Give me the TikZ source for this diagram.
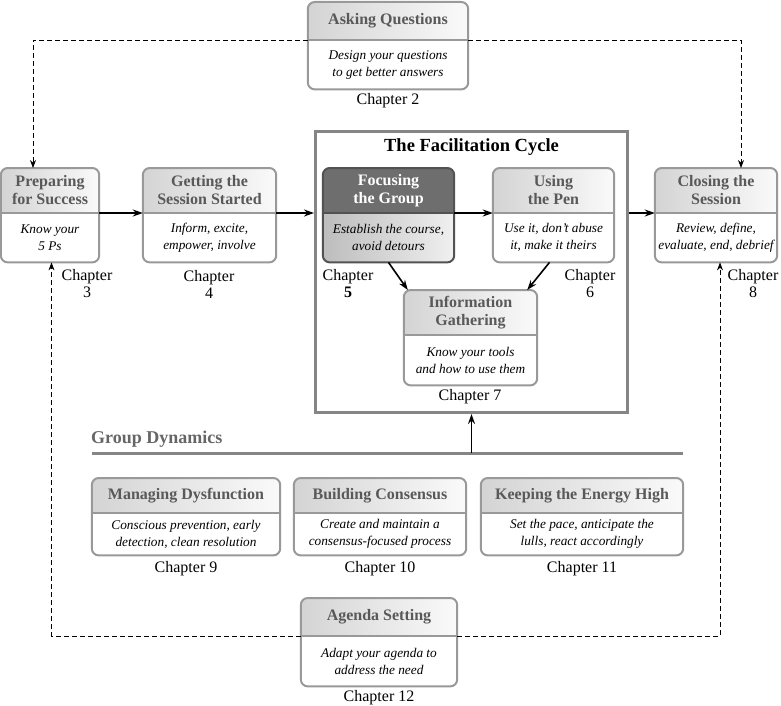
\documentclass[tikz,border=0pt]{standalone}
\usepackage{fontspec}
\setmainfont{Liberation Serif}
\usepackage{tikz}
\usetikzlibrary{arrows.meta,calc}

% box with shaded header and white body
\newcommand{\topicbox}[9]{%
  \node[boxshape, minimum width=#5, minimum height=#6, anchor=north] (#1) at (#3,#4) {};
  \begin{scope}[#2]
    \begin{scope}
      \clip[rounded corners=7pt] (#1.south west) rectangle (#1.north east);
      \shade[bodyshade] (#1.south west) rectangle (#1.north east);
      \shade[headshade] (#1.north west) rectangle ([yshift=-#7pt]#1.north east);
    \end{scope}
    \coordinate (#1-dw) at ([yshift=-#7pt]#1.north west);
    \coordinate (#1-de) at ([yshift=-#7pt]#1.north east);
    \coordinate (#1-dc) at ([yshift=-#7pt]#1.north);
    \draw[divider] (#1-dw) -- (#1-de);
    \draw[boxline] (#1.south west) rectangle (#1.north east);
    \node[headtext] (#1-h) at ($(#1.north)!0.5!(#1-dc)$) {#8};
    \node[bodytext] (#1-b) at ($(#1.south)!0.5!(#1-dc)$) {#9};
  \end{scope}
}

\begin{document}
\begin{tikzpicture}[
    x=1pt, y=-1pt,
    boxshape/.style={rectangle, inner sep=0pt},
    plainbox/.style={},
    headshade/.style={left color=black!17, right color=black!2},
    bodyshade/.style={top color=white, bottom color=white},
    boxline/.style={draw=black!40, line width=2pt, rounded corners=7pt},
    divider/.style={draw=black!40, line width=1.5pt},
    headtext/.style={font=\bfseries\fontsize{16}{18}\selectfont, text=black!65,
        align=center, inner sep=0pt},
    bodytext/.style={font=\itshape\fontsize{13.3}{17}\selectfont, align=center,
        inner sep=0pt},
    darkbox/.style={
        headshade/.style={top color=black!57, bottom color=black!57},
        bodyshade/.style={left color=black!26, right color=black!6},
        boxline/.style={draw=black!68, line width=2pt, rounded corners=7pt},
        divider/.style={draw=black!68, line width=1.5pt},
        headtext/.append style={text=white}},
    chap/.style={font=\fontsize{16}{17}\selectfont, align=center, inner sep=0pt},
    flow/.style={-{Stealth[length=10pt,width=7pt]}, line width=1.6pt},
    back/.style={-{Stealth[length=8pt,width=6pt]}, dash pattern=on 5pt off 3pt,
        line width=0.8pt}
]

\useasboundingbox (0,0) rectangle (781,706);

% Top row
\topicbox{ask}{plainbox}{388}{2}{160}{87}{38}{Asking Questions}{Design your questions\\to get better answers}
\node[chap] (ask-c) at (388,101) {Chapter 2};

\topicbox{prep}{plainbox}{50}{168}{98}{94}{45}{Preparing\\for Success}{Know your\\5 Ps}
\node[chap] (prep-c) at (87,284) {Chapter\\3};

\topicbox{start}{plainbox}{209.5}{168}{133}{94}{45}{Getting the\\Session Started}{Inform, excite,\\empower, involve}
\node[chap] (start-c) at (209,284) {Chapter\\4};

% Facilitation cycle frame
\node[boxshape, draw=black!48, line width=3pt, minimum width=312, minimum height=281,
    anchor=north west] (cycle) at (314,130) {};
\node[font=\bfseries\fontsize{18.5}{20}\selectfont, inner sep=0pt] (cycle-t)
    at ([yshift=-17pt]cycle.north) {The Facilitation Cycle};

\topicbox{focus}{darkbox}{388.5}{168}{131}{94}{45}{Focusing\\the Group}{Establish the course,\\avoid detours}
\node[chap] (focus-c) at (348,284) {Chapter\\\textbf{5}};

\topicbox{pen}{plainbox}{553.5}{168}{121}{94}{45}{Using\\the Pen}{Use it, don't abuse\\it, make it theirs}
\node[chap] (pen-c) at (590,284) {Chapter\\6};

\topicbox{info}{plainbox}{470.5}{290}{133}{95}{45}{Information\\Gathering}{Know your tools\\and how to use them}
\node[chap] (info-c) at (470,397) {Chapter 7};

\topicbox{close}{plainbox}{716}{168}{122}{94}{45}{Closing the\\Session}{Review, define,\\evaluate, end, debrief}
\node[chap] (close-c) at (753,284) {Chapter\\8};

% Flow arrows
\draw[flow] (prep-de) -- (start-dw);
\draw[flow] (start-de) -- (start-de -| cycle.west);
\draw[flow] (focus-de) -- (pen-dw);
\draw[flow] (close-dw -| cycle.east) -- (close-dw);
\draw[flow] (focus.south) -- ([xshift=4pt]info.north west);
\draw[flow] ([xshift=-4pt]pen.south) -- ([xshift=-10pt]info.north east);

% Group dynamics
\coordinate (gd-l) at (92,453);
\coordinate (gd-r) at (683,453);
\draw[draw=black!48, line width=3pt] (gd-l) -- (gd-r);
\node[font=\bfseries\fontsize{18}{20}\selectfont, text=black!60, anchor=west,
    inner sep=0pt] (gd-t) at (91,439) {Group Dynamics};
\draw[flow] (cycle.south |- gd-l) -- (cycle.south);

\topicbox{manage}{plainbox}{186}{478}{188}{77}{35}{Managing Dysfunction}{Conscious prevention, early\\detection, clean resolution}
\node[chap] (manage-c) at (186,569) {Chapter 9};

\topicbox{build}{plainbox}{380}{478}{172}{77}{35}{Building Consensus}{Create and maintain a\\consensus-focused process}
\node[chap] (build-c) at (380,569) {Chapter 10};

\topicbox{energy}{plainbox}{582}{478}{202}{77}{35}{Keeping the Energy High}{Set the pace, anticipate the\\lulls, react accordingly}
\node[chap] (energy-c) at (582,569) {Chapter 11};

\topicbox{agenda}{plainbox}{379}{598}{156}{88}{38}{Agenda Setting}{Adapt your agenda to\\address the need}
\node[chap] (agenda-c) at (379,698) {Chapter 12};

% Dashed feedback lines
\draw[back] (ask-dw) -| ([xshift=-17pt]prep.north);
\draw[back] (ask-de) -| ([xshift=25pt]close.north);
\draw[back] (agenda-dw) -| ([xshift=1.5pt]prep.south);
\draw[back] (agenda-de) -| ([xshift=4pt]close.south);

\end{tikzpicture}
\end{document}
